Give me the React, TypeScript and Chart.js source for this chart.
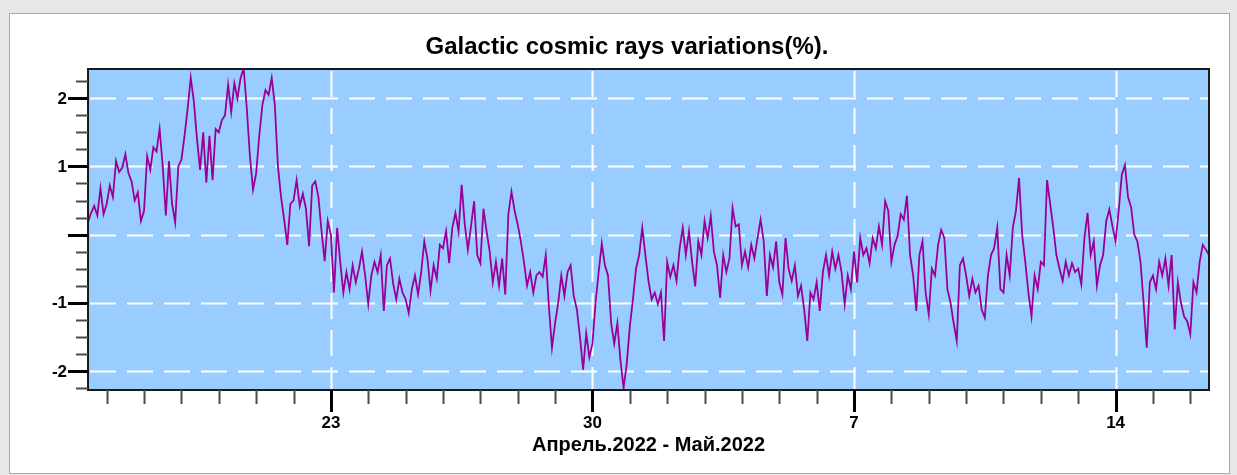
import React, { useEffect, useRef } from 'react';
import { Chart, registerables } from 'chart.js';

Chart.register(...registerables);

// ---- Text ----
const TITLE = 'Galactic cosmic rays variations(%).';
const X_TITLE = 'Апрель.2022 - Май.2022';

// ---- Axes (x in days counted from "April 0"; 31 = May 1) ----
const X_MIN = 16.5;
const X_MAX = 46.5;
const Y_MIN = -2.28;
const Y_MAX = 2.43;
const START_DAY = 16.5; // Apr 16, 12:00
const STEP_DAYS = 2 / 24; // 2-hour samples
const X_MAJOR = [23, 30, 37, 44];
const X_LABELS = ['23', '30', '7', '14'];
const Y_MAJOR = [-2, -1, 0, 1, 2];
const Y_LABELS = ['-2', '-1', '', '1', '2'];
const Y_MINOR_STEP = 0.25;

// ---- Series values (%), 2-hour samples ----
const week1 = [
  0.18, 0.32, 0.42, 0.28, 0.68, 0.3,
  0.45, 0.72, 0.55, 1.08, 0.92, 0.98, 1.18, 0.9, 0.78, 0.5, 0.62, 0.2,
  0.35, 1.15, 0.95, 1.28, 1.22, 1.55, 1.0, 0.28, 1.08, 0.45, 0.18, 1.0,
  1.1, 1.45, 1.85, 2.3, 1.95, 1.4, 0.95, 1.5, 0.76, 1.45, 0.8, 1.55,
  1.5, 1.68, 1.75, 2.2, 1.8, 2.22, 2.0, 2.3, 2.44, 1.85, 1.15, 0.66,
  0.9, 1.45, 1.9, 2.12, 2.05, 2.3, 1.9, 1.0, 0.55, 0.22, -0.15, 0.45,
  0.5, 0.8, 0.42, 0.6, 0.38, -0.17, 0.72, 0.78, 0.55, 0.05, -0.39, 0.2,
];
const week2 = [
  0.0, -0.85, 0.1, -0.4, -0.85, -0.55, -0.8, -0.45, -0.7, -0.5, -0.25, -0.6,
  -1.02, -0.6, -0.4, -0.55, -0.3, -1.12, -0.45, -0.35, -0.72, -0.95, -0.65, -0.85,
  -0.95, -1.15, -0.8, -0.6, -0.88, -0.55, -0.1, -0.35, -0.82, -0.45, -0.65, -0.15,
  -0.2, 0.05, -0.42, 0.1, 0.32, 0.05, 0.73, 0.15, -0.22, 0.12, 0.49, -0.3,
  -0.42, 0.38, 0.05, -0.25, -0.7, -0.4, -0.75, -0.35, -0.88, 0.3, 0.63, 0.35,
  0.15, -0.1, -0.4, -0.75, -0.55, -0.85, -0.6, -0.55, -0.62, -0.3, -1.05, -1.66,
  -1.3, -1.0, -0.6, -0.9, -0.55, -0.45, -0.9, -1.1, -1.5, -1.98, -1.45, -1.8,
];
const week3 = [
  -1.6, -1.0, -0.55, -0.13, -0.45, -0.6, -1.3, -1.6, -1.3, -1.85, -2.25, -1.9,
  -1.35, -0.95, -0.5, -0.3, 0.1, -0.3, -0.68, -0.95, -0.85, -1.02, -0.85, -1.56,
  -0.4, -0.62, -0.45, -0.68, -0.2, 0.1, -0.3, 0.05, -0.4, -0.76, -0.1, -0.3,
  0.2, -0.05, 0.27, -0.25, -0.45, -0.93, -0.3, -0.55, -0.35, 0.39, 0.12, 0.15,
  -0.45, -0.25, -0.48, -0.15, -0.35, -0.05, 0.22, -0.1, -0.9, -0.3, -0.48, -0.1,
  -0.7, -0.88, -0.05, -0.5, -0.68, -0.45, -0.9, -0.75, -1.1, -1.56, -0.85, -0.95,
  -0.7, -1.12, -0.55, -0.3, -0.6, -0.25, -0.5, -0.3, -0.55, -1.02, -0.6, -0.8,
];
const week4 = [
  -0.25, -0.7, -0.05, -0.3, -0.2, -0.42, -0.05, -0.2, 0.12, -0.15, 0.49, 0.35,
  -0.4, -0.15, -0.02, 0.3, 0.22, 0.57, -0.3, -0.6, -1.12, -0.3, -0.1, -0.85,
  -1.17, -0.5, -0.6, -0.15, 0.07, -0.05, -0.8, -1.0, -1.3, -1.56, -0.45, -0.35,
  -0.6, -0.9, -0.65, -0.85, -0.75, -1.1, -1.22, -0.6, -0.3, -0.2, 0.1, -0.8,
  -0.85, -0.3, -0.6, 0.1, 0.35, 0.83, 0.0, -0.4, -0.85, -1.2, -0.6, -0.8,
  -0.4, -0.45, 0.8, 0.45, 0.1, -0.3, -0.5, -0.68, -0.4, -0.6, -0.42, -0.55,
  -0.5, -0.73, -0.05, 0.32, -0.3, -0.1, -0.75, -0.45, -0.3, 0.2, 0.37, 0.12,
];
const week5 = [
  -0.1, 0.35, 0.88, 1.02, 0.55, 0.4, 0.0, -0.1, -0.4, -1.0, -1.66, -0.7,
  -0.6, -0.8, -0.4, -0.6, -0.35, -0.75, -0.3, -1.39, -0.7, -1.0, -1.2, -1.27,
  -1.46, -0.7, -0.85, -0.4, -0.15, -0.22, -0.3,
];

const FONT = "'Liberation Sans', Arial, sans-serif";

const decorPlugin = {
  id: 'decor',
  beforeDatasetsDraw(chart: any) {
    const { ctx, chartArea: a, scales } = chart;
    const x = scales.x;
    const y = scales.y;
    ctx.save();
    ctx.fillStyle = '#99ccff';
    ctx.fillRect(a.left, a.top, a.right - a.left, a.bottom - a.top);
    ctx.strokeStyle = '#ffffff';
    ctx.lineWidth = 2;
    ctx.setLineDash([26, 11]);
    for (const v of Y_MAJOR) {
      const py = Math.round(y.getPixelForValue(v)) + 0.5;
      ctx.beginPath();
      ctx.moveTo(a.left + 2, py);
      ctx.lineTo(a.right, py);
      ctx.stroke();
    }
    for (const d of X_MAJOR) {
      const px = Math.round(x.getPixelForValue(d)) + 0.5;
      ctx.beginPath();
      ctx.moveTo(px, a.top + 2);
      ctx.lineTo(px, a.bottom);
      ctx.stroke();
    }
    ctx.restore();
  },
  afterDatasetsDraw(chart: any) {
    const { ctx, chartArea: a, scales } = chart;
    const x = scales.x;
    const y = scales.y;
    ctx.save();
    // frame
    ctx.strokeStyle = '#1a1a1a';
    ctx.lineWidth = 2;
    ctx.strokeRect(a.left, a.top, a.right - a.left, a.bottom - a.top);

    // y minor ticks
    ctx.strokeStyle = '#4a4a4a';
    ctx.lineWidth = 2;
    for (let v = Math.ceil(Y_MIN / Y_MINOR_STEP) * Y_MINOR_STEP; v <= Y_MAX; v += Y_MINOR_STEP) {
      const py = Math.round(y.getPixelForValue(v)) + 0.5;
      ctx.beginPath();
      ctx.moveTo(a.left - 12, py);
      ctx.lineTo(a.left, py);
      ctx.stroke();
    }
    // x minor ticks (every day)
    for (let d = Math.ceil(X_MIN); d <= X_MAX; d += 1) {
      const px = Math.round(x.getPixelForValue(d)) + 0.5;
      ctx.beginPath();
      ctx.moveTo(px, a.bottom);
      ctx.lineTo(px, a.bottom + 14);
      ctx.stroke();
    }
    // major ticks
    ctx.strokeStyle = '#000000';
    ctx.lineWidth = 3;
    Y_MAJOR.forEach((v) => {
      const py = Math.round(y.getPixelForValue(v)) + 0.5;
      ctx.beginPath();
      ctx.moveTo(a.left - 20, py);
      ctx.lineTo(a.left, py);
      ctx.stroke();
    });
    X_MAJOR.forEach((d) => {
      const px = Math.round(x.getPixelForValue(d)) + 0.5;
      ctx.beginPath();
      ctx.moveTo(px, a.bottom);
      ctx.lineTo(px, a.bottom + 22);
      ctx.stroke();
    });

    // labels
    ctx.fillStyle = '#000000';
    ctx.font = `bold 17px ${FONT}`;
    ctx.textAlign = 'right';
    ctx.textBaseline = 'middle';
    Y_MAJOR.forEach((v, i) => {
      ctx.fillText(Y_LABELS[i], a.left - 21, y.getPixelForValue(v) + 1);
    });
    ctx.textAlign = 'center';
    X_MAJOR.forEach((d, i) => {
      ctx.fillText(X_LABELS[i], x.getPixelForValue(d), a.bottom + 33);
    });

    // titles
    ctx.font = `bold 20px ${FONT}`;
    ctx.fillText(X_TITLE, (a.left + a.right) / 2, a.bottom + 55);
    ctx.font = `bold 24px ${FONT}`;
    ctx.fillText(TITLE, 627, 47);
    ctx.restore();
  },
};

export default function App() {
  const ref = useRef<HTMLCanvasElement | null>(null);

  useEffect(() => {
    if (!ref.current) return;
    const values = [...week1, ...week2, ...week3, ...week4, ...week5];
    const points = values.map((v, i) => ({ x: START_DAY + i * STEP_DAYS, y: v }));
    const chart = new Chart(ref.current, {
      type: 'line',
      data: {
        datasets: [
          {
            data: points,
            borderColor: '#990099',
            borderWidth: 1.8,
            pointRadius: 0,
            tension: 0,
            fill: false,
          },
        ],
      },
      options: {
        animation: false,
        responsive: false,
        events: [],
        layout: { padding: { left: 88, top: 69, right: 28, bottom: 85 } },
        plugins: { legend: { display: false }, title: { display: false }, tooltip: { enabled: false } },
        scales: {
          x: { type: 'linear', display: false, min: X_MIN, max: X_MAX },
          y: { type: 'linear', display: false, min: Y_MIN, max: Y_MAX },
        },
      },
      plugins: [decorPlugin],
    });
    return () => chart.destroy();
  }, []);

  return (
    <div style={{ position: 'fixed', left: 0, top: 0, width: 1237, height: 475, background: '#e8e8e8', overflow: 'hidden' }}>
      <div
        style={{
          position: 'absolute',
          left: 9,
          top: 13,
          width: 1221,
          height: 461,
          background: '#ffffff',
          border: '1px solid #a8a8a8',
          boxSizing: 'border-box',
        }}
      />
      <canvas ref={ref} width={1237} height={475} style={{ position: 'absolute', left: 0, top: 0, width: 1237, height: 475 }} />
    </div>
  );
}
